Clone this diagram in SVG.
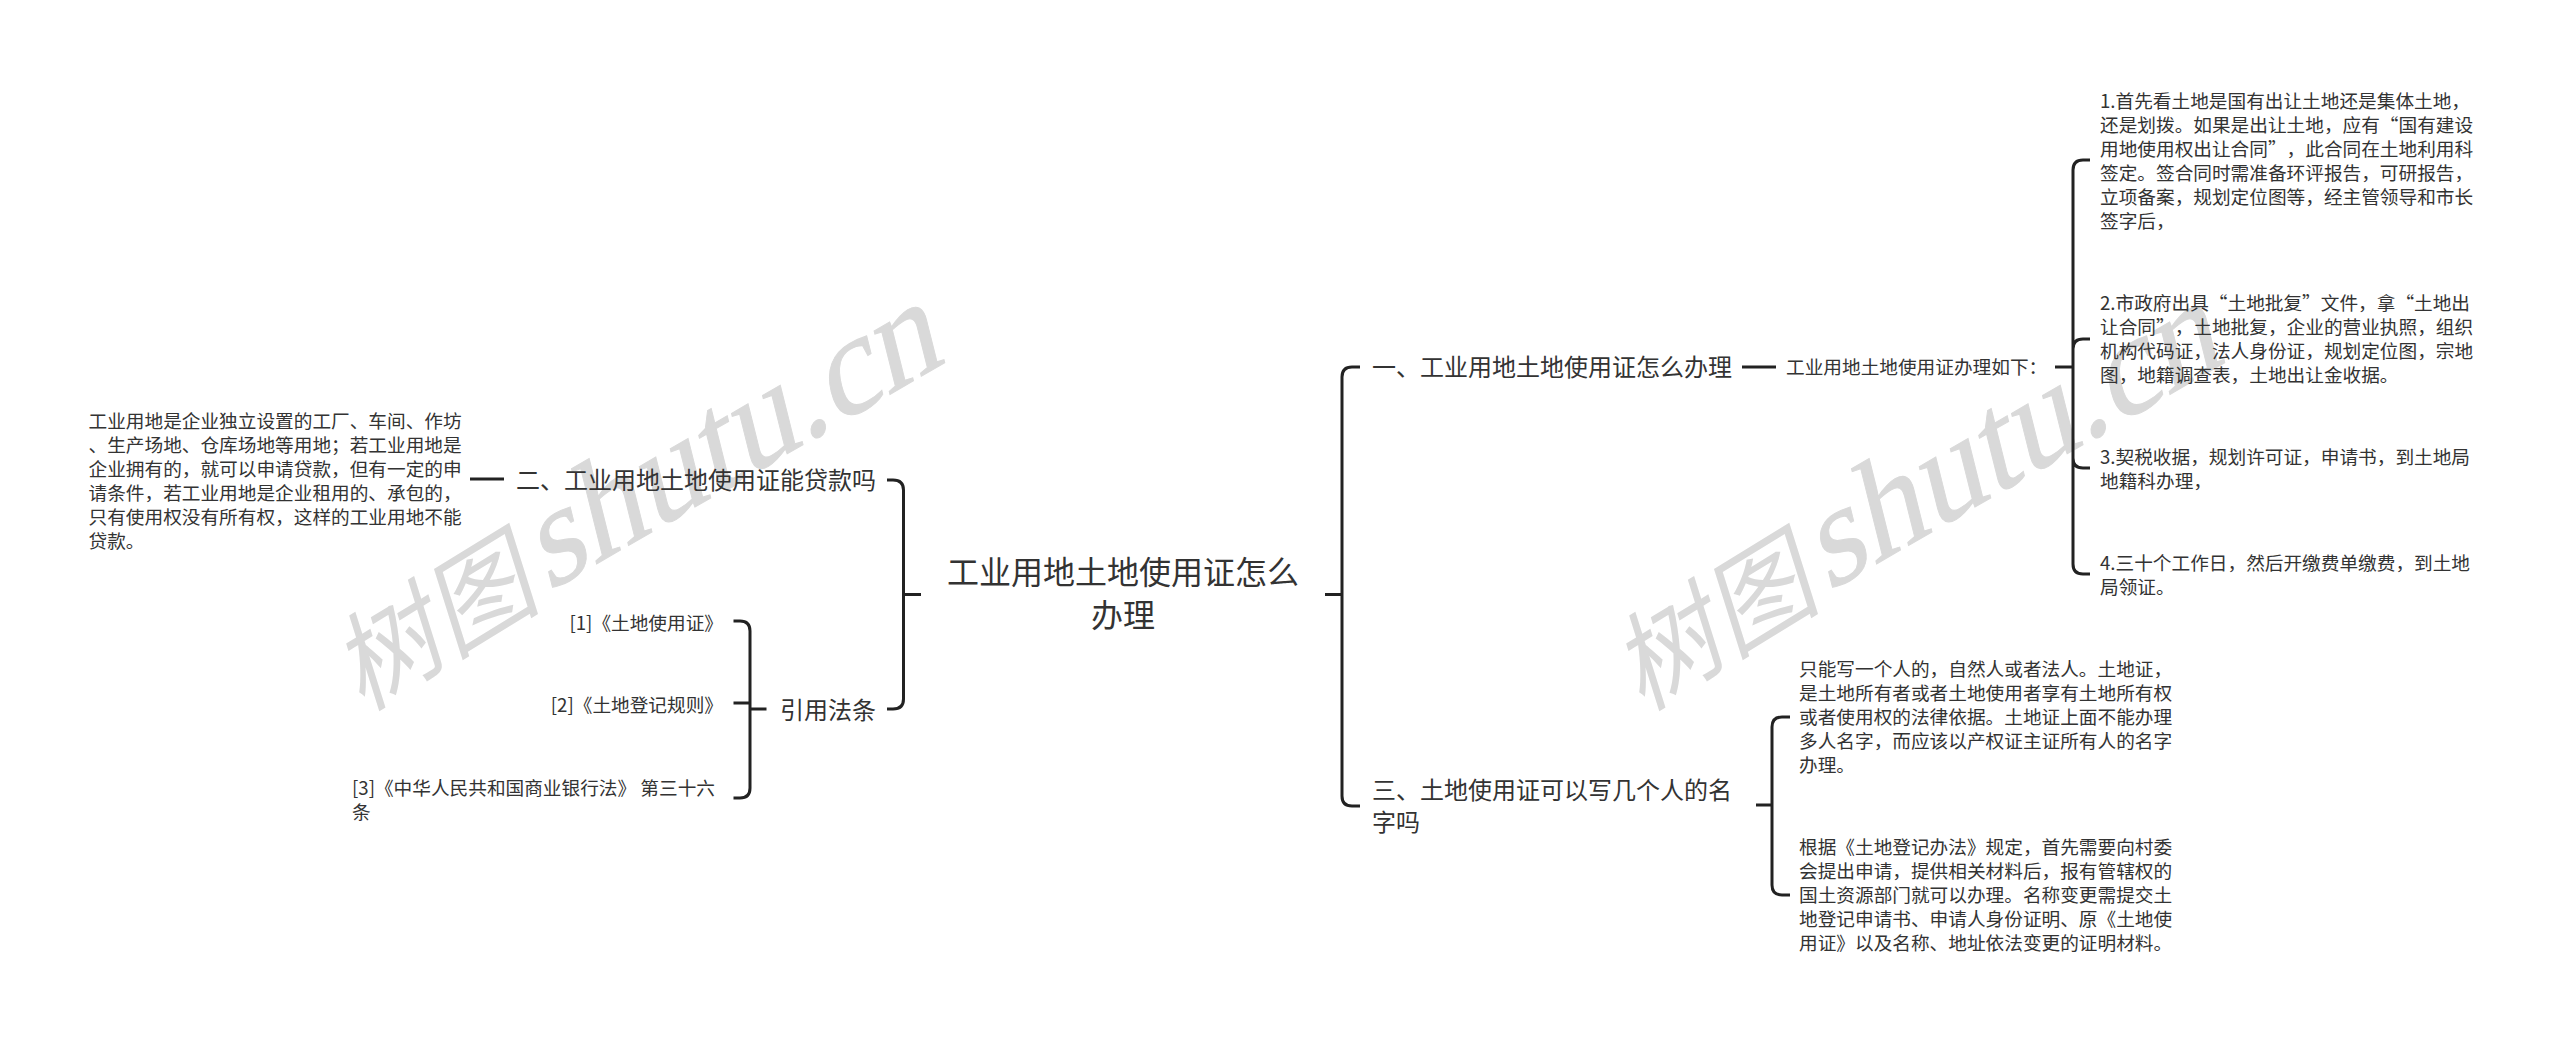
<svg xmlns="http://www.w3.org/2000/svg" width="2560" height="1043" viewBox="0 0 2560 1043">
<style>
text{font-family:"Noto Sans CJK SC","Noto Sans",sans-serif;fill:#333;text-spacing-trim:space-all}
.s{font-size:18.67px}
.m{font-size:24px}
.r{font-size:32px;text-anchor:middle}
.e{text-anchor:end}
text.k{font-style:italic;font-size:106px;fill:#d9d9d9}
text.l{font-family:"Liberation Serif","Times New Roman",serif;font-size:137px;fill:#d9d9d9;stroke:#d9d9d9;stroke-width:1}
.c{fill:none;stroke:#222;stroke-width:3;stroke-linecap:butt}
</style>
<rect width="2560" height="1043" fill="#fff"/>
<g id="watermarks">
<text class="k" transform="translate(362 712) rotate(-31.5)">树图</text>
<text class="l" transform="translate(548 592) rotate(-30) skewX(-16)">shutu.cn</text>
<text class="k" transform="translate(1642 712) rotate(-31.5)">树图</text>
<text class="l" transform="translate(1828 592) rotate(-30) skewX(-16)">shutu.cn</text>
</g>
<g id="connectors">
<path class="c" d="M887 480H893Q903.500 480 903.500 490V699Q903.500 709 893 709H887M903.500 594.500H921"/>
<path class="c" d="M470 479H504"/>
<path class="c" d="M733.500 621H740Q750 621 750 631V788Q750 798 740 798H733.500M750 709H766.500M733.500 703H750"/>
<path class="c" d="M1360 367H1352Q1342 367 1342 377V796Q1342 806 1352 806H1360M1325 594.500H1342"/>
<path class="c" d="M1742 367H1776"/>
<path class="c" d="M2055 367H2073"/>
<path class="c" d="M2090 160H2083Q2073 160 2073 170V564Q2073 574 2083 574H2090M2090 339H2083Q2073 339 2073 349M2073 458Q2073 468 2083 468H2090"/>
<path class="c" d="M1790 717H1782Q1772 717 1772 727V885Q1772 895 1782 895H1790M1756 805H1772"/>
</g>
<g id="root"><text class="r" x="1123" y="584">工业用地土地使用证怎么</text><text class="r" x="1123" y="627">办理</text></g>
<g id="n2"><text class="m" x="516" y="489">二、工业用地土地使用证能贷款吗</text></g>
<g id="n2-1">
<text class="s" x="88.500" y="428">工业用地是企业独立设置的工厂、车间、作坊</text>
<text class="s" x="88.500" y="452">、生产场地、仓库场地等用地；若工业用地是</text>
<text class="s" x="88.500" y="476">企业拥有的，就可以申请贷款，但有一定的申</text>
<text class="s" x="88.500" y="500">请条件，若工业用地是企业租用的、承包的，</text>
<text class="s" x="88.500" y="524">只有使用权没有所有权，这样的工业用地不能</text>
<text class="s" x="88.500" y="548">贷款。</text>
</g>
<g id="law"><text class="m" x="780" y="719">引用法条</text></g>
<g id="law1"><text class="s e" x="723" y="630">[1]《土地使用证》</text></g>
<g id="law2"><text class="s e" x="723" y="712">[2]《土地登记规则》</text></g>
<g id="law3"><text class="s" x="352" y="795">[3]《中华人民共和国商业银行法》 第三十六</text><text class="s" x="352" y="819">条</text></g>
<g id="n1"><text class="m" x="1372" y="376">一、工业用地土地使用证怎么办理</text></g>
<g id="n1-0"><text class="s" x="1786" y="374">工业用地土地使用证办理如下：</text></g>
<g id="step1">
<text class="s" x="2100" y="108">1.首先看土地是国有出让土地还是集体土地，</text>
<text class="s" x="2100" y="132">还是划拨。如果是出让土地，应有“国有建设</text>
<text class="s" x="2100" y="156">用地使用权出让合同”，此合同在土地利用科</text>
<text class="s" x="2100" y="180">签定。签合同时需准备环评报告，可研报告，</text>
<text class="s" x="2100" y="204">立项备案，规划定位图等，经主管领导和市长</text>
<text class="s" x="2100" y="228">签字后，</text>
</g>
<g id="step2">
<text class="s" x="2100" y="310">2.市政府出具“土地批复”文件，拿“土地出</text>
<text class="s" x="2100" y="334">让合同”，土地批复，企业的营业执照，组织</text>
<text class="s" x="2100" y="358">机构代码证，法人身份证，规划定位图，宗地</text>
<text class="s" x="2100" y="382">图，地籍调查表，土地出让金收据。</text>
</g>
<g id="step3">
<text class="s" x="2100" y="464">3.契税收据，规划许可证，申请书，到土地局</text>
<text class="s" x="2100" y="488">地籍科办理，</text>
</g>
<g id="step4">
<text class="s" x="2100" y="570">4.三十个工作日，然后开缴费单缴费，到土地</text>
<text class="s" x="2100" y="594">局领证。</text>
</g>
<g id="n3"><text class="m" x="1372" y="799">三、土地使用证可以写几个人的名</text><text class="m" x="1372" y="831">字吗</text></g>
<g id="n3-1">
<text class="s" x="1799" y="676">只能写一个人的，自然人或者法人。土地证，</text>
<text class="s" x="1799" y="700">是土地所有者或者土地使用者享有土地所有权</text>
<text class="s" x="1799" y="724">或者使用权的法律依据。土地证上面不能办理</text>
<text class="s" x="1799" y="748">多人名字，而应该以产权证主证所有人的名字</text>
<text class="s" x="1799" y="772">办理。</text>
</g>
<g id="n3-2">
<text class="s" x="1799" y="854">根据《土地登记办法》规定，首先需要向村委</text>
<text class="s" x="1799" y="878">会提出申请，提供相关材料后，报有管辖权的</text>
<text class="s" x="1799" y="902">国土资源部门就可以办理。名称变更需提交土</text>
<text class="s" x="1799" y="926">地登记申请书、申请人身份证明、原《土地使</text>
<text class="s" x="1799" y="950">用证》以及名称、地址依法变更的证明材料。</text>
</g>
</svg>
